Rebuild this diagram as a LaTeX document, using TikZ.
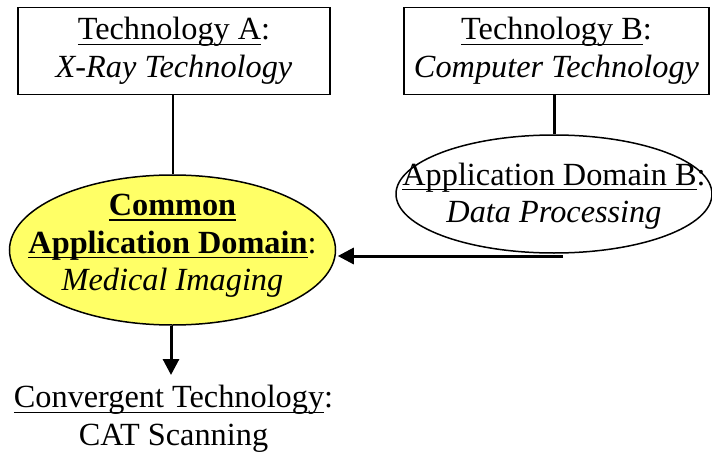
\documentclass[tikz,border=0pt]{standalone}
\usepackage{fontspec}
\setmainfont{Liberation Serif}
\usetikzlibrary{shapes.geometric,arrows.meta}
\definecolor{commonyellow}{RGB}{255,255,102}
\newcommand\myul[1]{\setbox0=\hbox{#1}\rlap{\rule[-5pt]{\wd0}{1.4pt}}\box0}
\begin{document}
\begin{tikzpicture}[x=1pt,y=-1pt,
  txt/.style={font=\fontsize{32.3}{37.5}\selectfont, align=center, inner sep=0pt},
  techbox/.style={draw, line width=1.5pt, rectangle, inner sep=0pt, minimum height=87pt, txt},
  domainshape/.style={draw, line width=1.5pt, ellipse, inner sep=0pt},
  thinline/.style={line width=2pt},
  thickline/.style={line width=3pt},
  arrowline/.style={line width=3pt, -{Triangle[length=16pt,width=16pt]}}
]
\useasboundingbox (0,0) rectangle (712,452);

\node[techbox, minimum width=312pt] (techA) at (174,51) {\myul{Technology A}:\\ \textit{X-Ray Technology}};
\node[techbox, minimum width=305pt] (techB) at (556.5,51) {\myul{Technology B}:\\ \textit{Computer Technology}};

\node[domainshape, minimum width=316pt, minimum height=118pt] (domB) at (554,194) {};
\node[txt] (domBtext) at (554,196) {\myul{Application Domain B}:\\ \textit{Data Processing}};

\node[domainshape, fill=commonyellow, minimum width=326pt, minimum height=150pt] (common) at (172.5,250) {};
\node[txt] (commontext) at (172.5,246) {\myul{\textbf{Common}}\\ \myul{\textbf{Application Domain}}:\\ \textit{Medical Imaging}};

\node[txt] (conv) at (173.5,419) {\myul{Convergent Technology}:\\ CAT Scanning};

\coordinate (bstart) at (563,256);
\coordinate (convtip) at (171,375);

\draw[thinline] (common.north) -- (common.north |- techA.south);
\draw[thickline] (domB.north) -- (domB.north |- techB.south);
\draw[arrowline, shorten >=1.5pt] (bstart) -- (bstart -| common.east);
\draw[arrowline] (common.south -| convtip) -- (convtip);
\end{tikzpicture}
\end{document}
